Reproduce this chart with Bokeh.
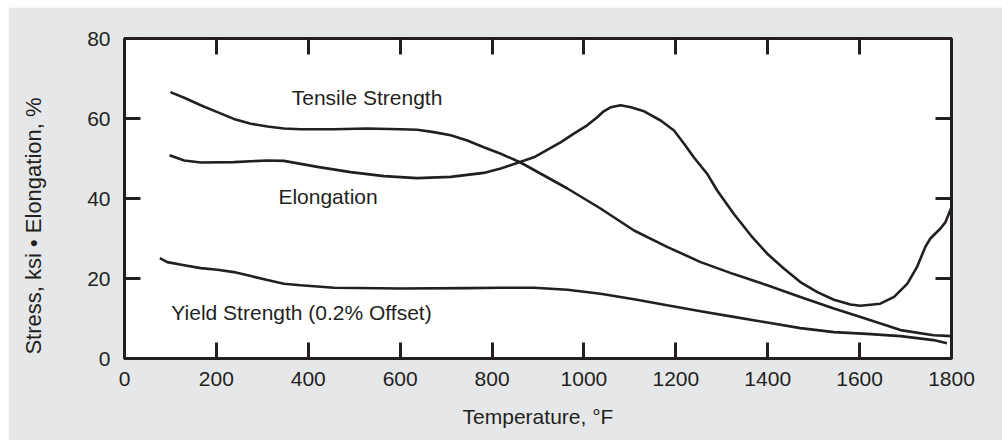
from bokeh.plotting import figure
from bokeh.models import LinearAxis, FixedTicker, Range1d, Spacer
from bokeh.layouts import column, row
from bokeh.core.properties import value
from bokeh.embed import file_html
from bokeh.resources import INLINE

# ---- data ----
tensile_x = [100, 130, 166, 202, 238, 275, 311, 347, 383, 456, 528, 601, 637, 673, 710,
             746, 782, 819, 862, 964, 1036, 1109, 1181, 1254, 1326, 1399, 1471, 1544,
             1602, 1689, 1761, 1800]
tensile_y = [66.6, 65.2, 63.3, 61.6, 59.9, 58.7, 58.0, 57.5, 57.3, 57.3, 57.5, 57.3, 57.2,
             56.6, 55.8, 54.5, 52.8, 51.2, 49.0, 42.5, 37.5, 32.0, 27.9, 24.1, 21.1, 18.3,
             15.4, 12.5, 10.4, 7.1, 5.8, 5.6]

elong_x = [98, 130, 166, 238, 311, 347, 420, 492, 565, 637, 710, 782, 819, 891, 950,
           978, 1007, 1029, 1043, 1058, 1080, 1102, 1131, 1167, 1196, 1218, 1239, 1268,
           1290, 1326, 1363, 1399, 1435, 1471, 1508, 1544, 1580, 1602, 1645, 1675, 1704,
           1725, 1743, 1754, 1776, 1787, 1800]
elong_y = [50.8, 49.5, 49.0, 49.1, 49.5, 49.4, 47.9, 46.6, 45.6, 45.1, 45.4, 46.4, 47.5,
           50.3, 54.1, 56.2, 58.3, 60.3, 61.8, 62.8, 63.3, 62.8, 61.8, 59.5, 57.0, 53.7,
           50.3, 46.2, 42.0, 36.2, 30.8, 26.2, 22.5, 19.1, 16.6, 14.7, 13.5, 13.2, 13.7,
           15.4, 18.7, 22.9, 27.9, 30.0, 32.5, 34.1, 37.8]

yield_x = [77, 93, 130, 166, 202, 238, 275, 311, 347, 383, 456, 601, 746, 819, 891, 964,
           1036, 1109, 1181, 1254, 1326, 1399, 1471, 1544, 1616, 1689, 1761, 1790]
yield_y = [25.1, 24.1, 23.3, 22.6, 22.2, 21.6, 20.6, 19.6, 18.7, 18.3, 17.7, 17.5, 17.6,
           17.7, 17.7, 17.2, 16.2, 14.8, 13.3, 11.8, 10.4, 9.0, 7.6, 6.6, 6.15, 5.6, 4.6,
           3.8]

x_ticks = [0, 200, 400, 600, 800, 1000, 1200, 1400, 1600, 1800]
inner_x_ticks = [200, 400, 600, 800, 1000, 1200, 1400, 1600]
y_ticks = [0, 20, 40, 60, 80]
inner_y_ticks = [20, 40, 60]

curve_labels = ["Tensile Strength", "Elongation", "Yield Strength (0.2% Offset)"]
label_x = [364, 335, 102]
label_y = [65.3, 40.5, 11.6]

x_title = "Temperature, °F"
y_title = "Stress, ksi • Elongation, %"

INK = "#231f20"
FONT = "Liberation Sans"
FS = "21px"

p = figure(width=994, height=433, output_backend="svg", toolbar_location=None,
           x_range=Range1d(0, 1800), y_range=Range1d(0, 80),
           x_axis_location=None, y_axis_location=None,
           min_border_left=116, min_border_right=51, min_border_top=31,
           min_border_bottom=82)
p.background_fill_color = "white"
p.border_fill_color = "#e6e7e8"
p.outline_line_color = INK
p.outline_line_width = 3
p.xgrid.visible = False
p.ygrid.visible = False


def style_axis(ax, ticks, show_labels):
    ax.ticker = FixedTicker(ticks=ticks)
    ax.axis_line_color = None
    ax.major_tick_in = 16
    ax.major_tick_out = 0
    ax.minor_tick_line_color = None
    ax.major_tick_line_color = INK
    ax.major_tick_line_width = 3
    ax.major_label_text_font = FONT
    ax.major_label_text_font_size = FS
    ax.major_label_text_color = INK
    ax.axis_label_text_font = FONT
    ax.axis_label_text_font_size = FS
    ax.axis_label_text_font_style = "normal"
    ax.axis_label_text_color = INK
    if not show_labels:
        ax.major_label_overrides = {t: "" for t in ticks}


bottom = LinearAxis()
style_axis(bottom, x_ticks, True)
bottom.major_label_standoff = 13
bottom.axis_label = x_title
bottom.axis_label_standoff = 16
p.add_layout(bottom, "below")

left = LinearAxis()
style_axis(left, y_ticks, True)
left.major_label_standoff = 14
# the title sits a little below the frame's middle in the reference: trailing
# no-break spaces shift the visible text down while Bokeh centres the label
left.axis_label = y_title + "\u00a0" * 9
left.axis_label_text_font_size = "22px"
left.axis_label_standoff = 38
p.add_layout(left, "left")

top = LinearAxis()
style_axis(top, inner_x_ticks, False)
p.add_layout(top, "above")

right = LinearAxis()
style_axis(right, inner_y_ticks, False)
p.add_layout(right, "right")

for xs, ys in [(tensile_x, tensile_y), (elong_x, elong_y), (yield_x, yield_y)]:
    p.line(xs, ys, line_color=INK, line_width=2.6, line_join="round")

p.text(x=label_x, y=label_y, text=curve_labels, text_font=value(FONT),
       text_font_size=FS, text_color=INK, text_align="left",
       text_baseline="middle")

layout = column(Spacer(height=7), row(Spacer(width=8), p))

open("out.html", "w").write(file_html(layout, INLINE))
